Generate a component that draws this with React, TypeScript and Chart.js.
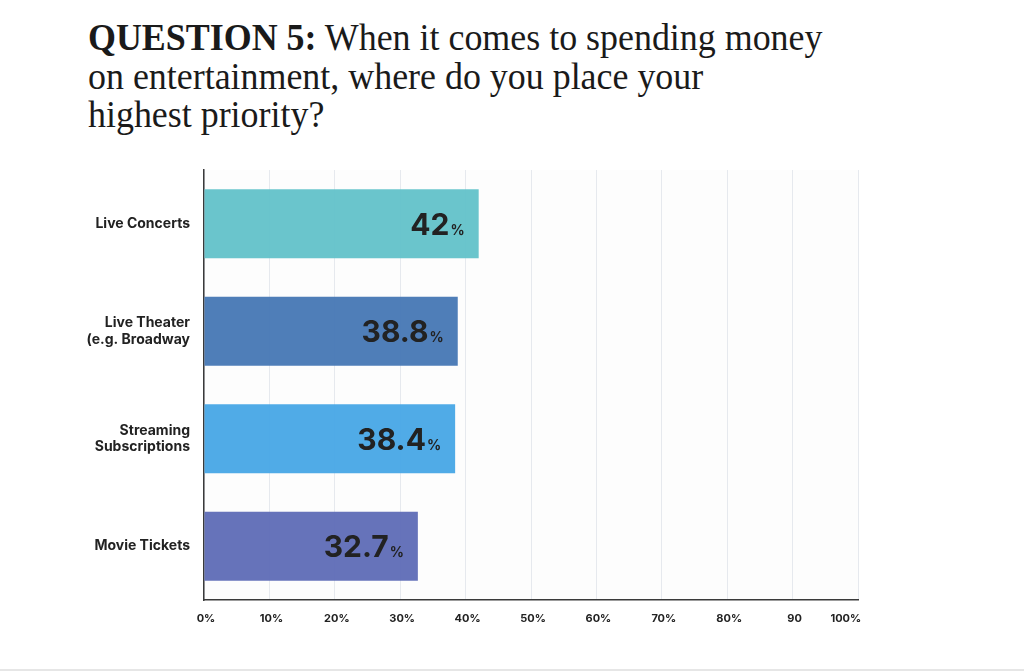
import React, { useEffect, useRef } from "react";
import { Chart, registerables } from "chart.js";

Chart.register(...registerables);

const categories: (string | string[])[] = [
  "Live Concerts",
  ["Live Theater", "(e.g. Broadway"],
  ["Streaming", "Subscriptions"],
  "Movie Tickets",
];
const values: number[] = [42, 38.8, 38.4, 32.7];
const valueLabels: string[] = ["42", "38.8", "38.4", "32.7"];
const barColors: string[] = [
  "rgba(98,194,201,0.95)",
  "rgba(70,119,180,0.95)",
  "rgba(71,167,230,0.95)",
  "rgba(94,108,182,0.95)",
];
const tickLabels: string[] = ["0%", "10%", "20%", "30%", "40%", "50%", "60%", "70%", "80%", "90", "100%"];

const SANS = "Inter, 'Noto Sans', sans-serif";

const bgPlugin = {
  id: "areaBg",
  beforeDraw(chart: any) {
    const { ctx, chartArea } = chart;
    ctx.save();
    ctx.fillStyle = "#fdfdfd";
    ctx.fillRect(chartArea.left, chartArea.top, chartArea.right - chartArea.left, chartArea.bottom - chartArea.top);
    ctx.restore();
  },
};

const labelPlugin = {
  id: "valueLabels",
  afterDatasetsDraw(chart: any) {
    const { ctx } = chart;
    const meta = chart.getDatasetMeta(0);
    ctx.save();
    ctx.fillStyle = "#222222";
    ctx.textBaseline = "alphabetic";
    meta.data.forEach((bar: any, i: number) => {
      const right = bar.x - 14;
      const baseline = bar.y + 11;
      ctx.font = `700 14px ${SANS}`;
      const pw = ctx.measureText("%").width;
      ctx.textAlign = "right";
      ctx.fillText("%", right, baseline);
      ctx.font = `700 30px ${SANS}`;
      ctx.fillText(valueLabels[i], right - pw - 1, baseline);
    });
    ctx.restore();
  },
};

export default function App() {
  const ref = useRef<HTMLCanvasElement>(null);
  useEffect(() => {
    if (!ref.current) return;
    const chart = new Chart(ref.current, {
      type: "bar",
      data: {
        labels: categories as any,
        datasets: [
          {
            data: values,
            backgroundColor: barColors,
            borderWidth: 0,
            categoryPercentage: 1,
            barPercentage: 0.642,
          },
        ],
      },
      options: {
        indexAxis: "y",
        animation: false,
        responsive: false,
        maintainAspectRatio: false,
        layout: { padding: { left: 0, right: 166, top: 170, bottom: 0 } },
        plugins: { legend: { display: false }, tooltip: { enabled: false } },
        scales: {
          x: {
            min: 0,
            max: 100,
            ticks: {
              stepSize: 10,
              padding: 12,
              labelOffset: 2,
              color: "#222",
              font: { family: SANS, size: 11, weight: "bold" },
              maxRotation: 0,
              autoSkip: false,
              callback: (_v: any, i: number) =>
                i === tickLabels.length - 1 ? tickLabels[i] + "\u2007\u2007\u2007\u2007" : tickLabels[i],
            },
            grid: { color: "#e6e9ee", drawTicks: false, lineWidth: 1 },
            border: { display: true, color: "#3a3a3a", width: 1.5 },
            afterFit: (s: any) => {
              s.height = 71;
            },
          },
          y: {
            ticks: {
              padding: 14,
              color: "#222",
              font: { family: SANS, size: 14, weight: "bold", lineHeight: 1.2 },
            },
            grid: { display: false, drawTicks: false },
            border: { display: true, color: "#3a3a3a", width: 1.5 },
            afterFit: (s: any) => {
              s.width = 204;
            },
          },
        },
      },
      plugins: [bgPlugin, labelPlugin],
    });
    return () => chart.destroy();
  }, []);

  return (
    <div style={{ position: "fixed", left: 0, top: 0, width: 1024, height: 671, background: "#fff", overflow: "hidden" }}>
      <div
        style={{
          position: "absolute",
          left: 88,
          top: 18,
          fontFamily: "'Liberation Serif', 'DejaVu Serif', serif",
          fontSize: 38,
          lineHeight: "38.5px",
          color: "#1a1a1a",
          whiteSpace: "nowrap",
          transform: "scaleX(0.945)",
          transformOrigin: "left top",
        }}
      >
        <b>QUESTION 5:</b> When it comes to spending money
        <br />
        on entertainment, where do you place your
        <br />
        highest priority?
      </div>
      <canvas ref={ref} width={1024} height={671} style={{ position: "absolute", left: 0, top: 0, width: 1024, height: 671 }} />
      <div style={{ position: "absolute", left: 0, top: 669, width: 1024, height: 2, background: "#e6e6e6" }} />
    </div>
  );
}
